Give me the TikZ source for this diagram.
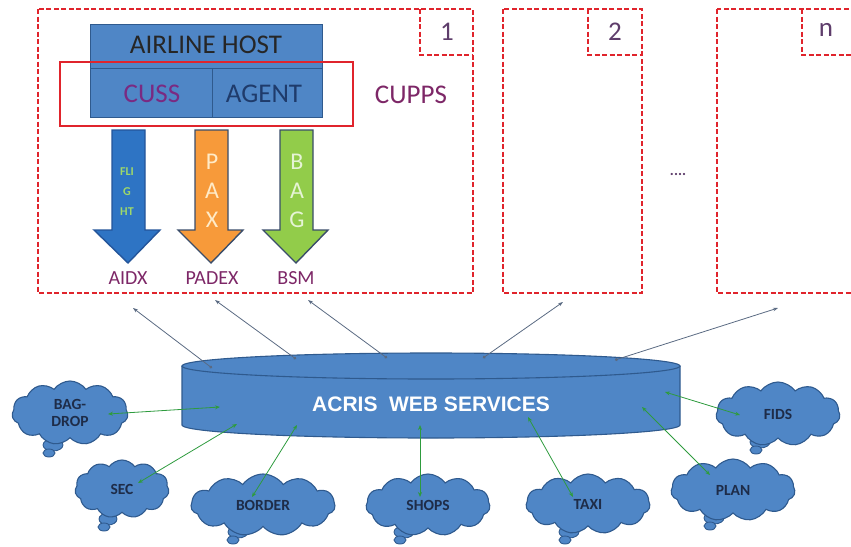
\documentclass[tikz,border=0pt]{standalone}
\usepackage{fontspec}
\setmainfont{Carlito}
\newfontfamily\arialfont{Liberation Sans}
\usetikzlibrary{shapes.symbols,arrows.meta}

\definecolor{boxblue}{HTML}{4F86C6}
\definecolor{boxedge}{HTML}{2F5A8E}
\definecolor{dashred}{HTML}{E0242C}
\definecolor{labelpurple}{HTML}{7D2767}
\definecolor{cusspurple}{HTML}{7A2A82}
\definecolor{agentnavy}{HTML}{1F3B6B}
\definecolor{numpurple}{HTML}{5E3D6B}
\definecolor{flightblue}{HTML}{2E74C4}
\definecolor{flightedge}{HTML}{24559A}
\definecolor{paxorange}{HTML}{F79A3A}
\definecolor{bagsgreen}{HTML}{92CC4A}
\definecolor{arrowedge}{HTML}{3A4D6A}
\definecolor{flighttext}{HTML}{9ED86A}
\definecolor{paxtext}{HTML}{FFEBC8}
\definecolor{bagtext}{HTML}{E6F4D6}
\definecolor{linkgreen}{HTML}{2E9B3E}
\definecolor{linkgray}{HTML}{5A6A82}
\definecolor{cloudtext}{HTML}{1E2C48}

\tikzset{
  zone/.style={draw=dashred, line width=1.8pt, dash pattern=on 5pt off 2.5pt},
  hostbox/.style={fill=boxblue, draw=boxedge, line width=1pt},
  flowarrow/.style={line width=1.4pt, line join=miter},
  cloudy/.style={cloud, cloud puffs=11, cloud puff arc=110, cloud ignores aspect,
    fill=boxblue, draw=boxedge, line width=1.1pt, inner sep=0pt,
    font=\bfseries\fontsize{15.5}{17}\selectfont, text=cloudtext, align=center},
  tailbubble/.style={fill=boxblue, draw=boxedge, line width=0.9pt},
  weblink/.style={draw=linkgreen, line width=0.8pt, {Stealth[length=5pt,width=4pt]}-{Stealth[length=5pt,width=4pt]}},
  hostlink/.style={draw=linkgray, line width=0.8pt, {Circle[length=3pt]}-{Stealth[length=5pt,width=3.5pt]}},
  bigtxt/.style={font=\fontsize{27}{28}\selectfont},
  msgtxt/.style={font=\fontsize{20}{21}\selectfont, text=labelpurple}
}

\begin{document}
\begin{tikzpicture}[x=1pt,y=-1pt]
\useasboundingbox (0,0) rectangle (851,546);
\clip (0,0) rectangle (851,546);

% ---- airport zones ----
\draw[zone] (38,9) rectangle (473,293);
\draw[zone] (420,9) -- (420,55) -- (473,55);
\node[bigtxt, text=numpurple] (num1) at (447,32) {1};

\draw[zone] (503,9) rectangle (642,293);
\draw[zone] (588,9) -- (588,55) -- (642,55);
\node[bigtxt, text=numpurple] (num2) at (615,32) {2};

\draw[zone] (717,9) rectangle (870,293);
\draw[zone] (802,9) -- (802,55) -- (870,55);
\node[bigtxt, text=numpurple] (numn) at (826,30) {n};

\node[font=\bfseries\fontsize{15}{15}\selectfont, text=numpurple] (more) at (678,174) {....};

% ---- CUPPS platform ----
\draw[hostbox] (90,24) rectangle (322,68);
\draw[hostbox] (90,68) rectangle (212,117);
\draw[hostbox] (212,68) rectangle (322,117);
\node[bigtxt, text=black!85] (host) at (206,45) {AIRLINE HOST};
\node[bigtxt, text=cusspurple] (cuss) at (152,94) {CUSS};
\node[bigtxt, text=agentnavy] (agent) at (264,94) {AGENT};
\draw[dashred, line width=2.2pt] (60,62) rectangle (353,126);
\node[bigtxt, text=labelpurple] (cupps) at (411,95) {CUPPS};

% ---- message flows ----
\draw[flowarrow, fill=flightblue, draw=flightedge]
  (112,130) -- (145,130) -- (145,230) -- (160,230) -- (128,263) -- (94,230) -- (112,230) -- cycle;
\draw[flowarrow, fill=paxorange, draw=arrowedge]
  (195,130) -- (228,130) -- (228,230) -- (243,230) -- (211,263) -- (178,230) -- (195,230) -- cycle;
\draw[flowarrow, fill=bagsgreen, draw=arrowedge]
  (280,130) -- (313,130) -- (313,230) -- (328,230) -- (296,263) -- (263,230) -- (280,230) -- cycle;

\node[font=\bfseries\fontsize{12}{20}\selectfont, text=flighttext, align=center] (flight) at (127,192)
  {FLI\\G\\HT};
\node[font=\fontsize{24}{29}\selectfont, text=paxtext, align=center] (pax) at (212,191) {P\\A\\X};
\node[font=\fontsize{24}{29}\selectfont, text=bagtext, align=center] (bag) at (297,191) {B\\A\\G};

\node[msgtxt] (aidx) at (128,278) {AIDX};
\node[msgtxt] (padex) at (212,278) {PADEX};
\node[msgtxt] (bsm) at (296,278) {BSM};

% ---- ACRIS web services store ----
\fill[boxblue] (182,366) -- (182,425) arc[start angle=180, end angle=360, x radius=249pt, y radius=13pt]
  -- (680,366) arc[start angle=0, end angle=180, x radius=249pt, y radius=13pt] -- cycle;
\draw[boxedge, line width=1.1pt] (182,366) -- (182,425) arc[start angle=180, end angle=360, x radius=249pt, y radius=13pt]
  -- (680,366);
\draw[boxedge, line width=1.1pt] (431,366) ellipse [x radius=249pt, y radius=13pt];
\node[font=\arialfont\bfseries\fontsize{21}{22}\selectfont, text=white] (acris) at (431,404) {ACRIS\ \ WEB SERVICES};

% ---- services around ACRIS ----
\foreach \cx/\cy/\rx/\ry in {53/445/10/6, 49/453/6/4, 108/519/9/6, 104/527/6/4,
  238/532/10/6, 233/540/6/4, 404/532/10/6, 400/540/6/4, 569/532/10/6, 565/540/6/4,
  714/518/10/6, 710/526/6/4, 760/442/10/6, 756/450/6/4}
  \draw[tailbubble] (\cx,\cy) ellipse [x radius=\rx pt, y radius=\ry pt];

\node[cloudy, minimum width=116pt, minimum height=64pt] (bagdrop) at (70,413) {BAG-\\DROP};
\node[cloudy, minimum width=94pt, minimum height=58pt] (sec) at (122,489) {SEC};
\node[cloudy, minimum width=144pt, minimum height=62pt] (border) at (263,505) {BORDER};
\node[cloudy, minimum width=124pt, minimum height=62pt] (shops) at (428,505) {SHOPS};
\node[cloudy, minimum width=124pt, minimum height=60pt] (taxi) at (588,504) {TAXI};
\node[cloudy, minimum width=124pt, minimum height=62pt] (plan) at (733,490) {PLAN};
\node[cloudy, minimum width=124pt, minimum height=64pt] (fids) at (778,414) {FIDS};

% link end points on the store and on the services
\coordinate (wBag) at (220,407);   \coordinate (cBag) at (108,414);
\coordinate (wSec) at (237,424);   \coordinate (cSec) at (138,483);
\coordinate (wBor) at (297,425);   \coordinate (cBor) at (252,497);
\coordinate (wSho) at (420,425);   \coordinate (cSho) at (420,497);
\coordinate (wTax) at (528,417);   \coordinate (cTax) at (573,497);
\coordinate (wPla) at (642,407);   \coordinate (cPla) at (710,475);
\coordinate (wFid) at (665,392);   \coordinate (cFid) at (740,415);

\foreach \a/\b in {wBag/cBag, wSec/cSec, wBor/cBor, wSho/cSho, wTax/cTax, wPla/cPla, wFid/cFid}
  \draw[weblink] (\a) -- (\b);

% links from the store up to the zones
\coordinate (s1) at (212,368); \coordinate (z1) at (133,308);
\coordinate (s2) at (296,359); \coordinate (z2) at (215,300);
\coordinate (s3) at (387,358); \coordinate (z3) at (308,300);
\coordinate (s4) at (483,358); \coordinate (z4) at (563,302);
\coordinate (s5) at (615,360); \coordinate (z5) at (778,308);

\foreach \a/\b in {s1/z1, s2/z2, s3/z3, s4/z4, s5/z5}
  \draw[hostlink] (\a) -- (\b);
\end{tikzpicture}
\end{document}
